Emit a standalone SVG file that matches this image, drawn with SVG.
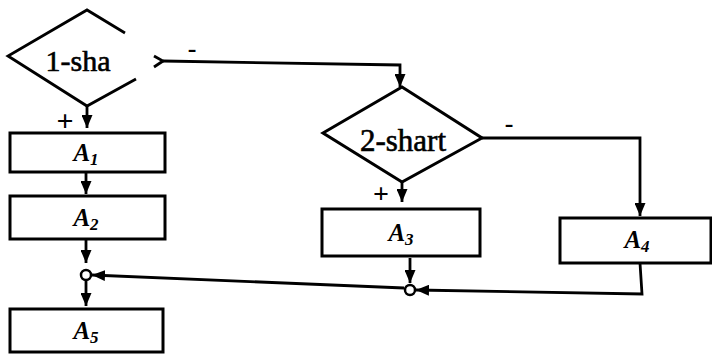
<svg xmlns="http://www.w3.org/2000/svg" width="712" height="356" viewBox="0 0 712 356">
<style>
.s{fill:none;stroke:#000;stroke-width:2.8;stroke-linejoin:miter}
.b{fill:#fff;stroke:#000;stroke-width:3}
.c{fill:#fff;stroke:#000;stroke-width:2.5}
</style>
<defs>
<marker id="ar" viewBox="0 0 13 11" markerWidth="13" markerHeight="11" refX="13" refY="5.5" orient="auto" markerUnits="userSpaceOnUse">
<path d="M0,0 L13,5.5 L0,11 z" fill="#000"/>
</marker>
</defs>
<g id="connectors" font-family="Liberation Serif, DejaVu Serif, serif" font-weight="bold" text-anchor="middle">
<path class="s" d="M154,56 L163,61 L154,67"/>
<path class="s" d="M163,61 L400,65 L400,87" marker-end="url(#ar)"/>
<path class="s" d="M87,106 L87,128" marker-end="url(#ar)"/>
<path class="s" d="M86,172 L86,194" marker-end="url(#ar)"/>
<path class="s" d="M86,240 L86,263" marker-end="url(#ar)"/>
<path class="s" d="M86,281 L86,306" marker-end="url(#ar)"/>
<path class="s" d="M402,182 L402,202" marker-end="url(#ar)"/>
<path class="s" d="M482,138 L640,138 L640,216" marker-end="url(#ar)"/>
<path class="s" d="M410,258 L410,283" marker-end="url(#ar)"/>
<path class="s" d="M640,263 L642,294 L416,290" marker-end="url(#ar)"/>
<path class="s" d="M404,288 L92,275" marker-end="url(#ar)"/>
<text x="192" y="57" font-size="26">-</text>
<text x="509" y="132" font-size="26">-</text>
<text x="65" y="131" font-size="30">+</text>
<text x="381" y="203" font-size="28">+</text>
</g>
<g id="cond1">
<path class="s" d="M125,33 L87,10 L8,56 L87,106 L136,79"/>
<text x="78" y="71" text-anchor="middle" font-family="Liberation Serif, DejaVu Serif, serif" font-size="30" stroke="#000" stroke-width="0.6">1-sha</text>
</g>
<g id="cond2">
<polygon class="b" points="402,87 482,138 402,182 323,133"/>
<text x="403" y="151" text-anchor="middle" font-family="Liberation Serif, DejaVu Serif, serif" font-size="31" stroke="#000" stroke-width="0.6">2-shart</text>
</g>
<g id="labels" font-family="Liberation Serif, DejaVu Serif, serif" font-style="italic" font-weight="bold" font-size="25" text-anchor="middle">
<g id="A1">
<rect class="b" x="10" y="133" width="155" height="39"/>
<text x="86" y="161">A<tspan font-size="17" dy="4">1</tspan></text>
</g>
<g id="A2">
<rect class="b" x="10" y="196" width="155" height="43"/>
<text x="86" y="226">A<tspan font-size="17" dy="4">2</tspan></text>
</g>
<g id="A3">
<rect class="b" x="322" y="209" width="158" height="47"/>
<text x="401" y="241">A<tspan font-size="17" dy="4">3</tspan></text>
</g>
<g id="A4">
<rect class="b" x="560" y="218" width="151" height="45"/>
<text x="637" y="248">A<tspan font-size="17" dy="4">4</tspan></text>
</g>
<g id="A5">
<rect class="b" x="10" y="309" width="153" height="43"/>
<text x="86" y="339">A<tspan font-size="17" dy="4">5</tspan></text>
</g>
</g>
<g id="junction1">
<circle class="c" cx="86" cy="275" r="5"/>
</g>
<g id="junction2">
<circle class="c" cx="410" cy="290" r="5"/>
</g>
</svg>
